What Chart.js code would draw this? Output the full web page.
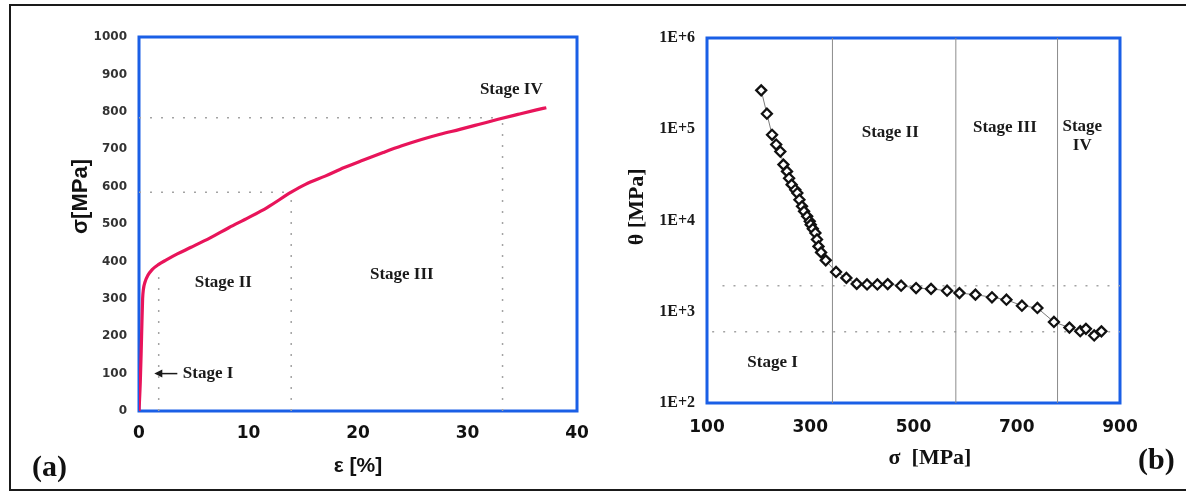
<!DOCTYPE html>
<html><head><meta charset="utf-8">
<script src="https://cdn.jsdelivr.net/npm/chart.js@4.4.0/dist/chart.umd.min.js"></script>
<style>
html,body{margin:0;padding:0;background:#fff;width:1186px;height:492px;overflow:hidden;}
#frame{position:absolute;left:9px;top:4px;width:1200px;height:487px;border:2px solid #1a1a1a;box-sizing:border-box;}
#ca{position:absolute;left:0;top:0;}
#cb{position:absolute;left:593px;top:0;}
.tag{position:absolute;font-family:"Liberation Serif",serif;font-weight:bold;font-size:30px;line-height:34px;color:#111;}
</style></head><body>
<div id="frame"></div>
<canvas id="ca" width="640" height="492"></canvas>
<canvas id="cb" width="593" height="492"></canvas>
<div class="tag" style="left:32px;top:449px">(a)</div>
<div class="tag" style="left:1138px;top:442px">(b)</div>
<script>
// ---------- (a) stress-strain curve ----------
const strainA = [0,0.12,0.2,0.27,0.33,0.4,0.55,0.8,1.2,1.8,2.5,3.5,4.7,6.5,8.2,10,11.7,13.9,15.2,17,18.75,20.5,22.3,24,25.8,27.5,29.3,31,32.8,34.6,36.3,37.2];
const stressA = [0,80,160,240,300,325,345,362,378,392,404,420,437,463,490,517,544,585,606,628,651,671,691,709,726,740,753,766,780,793,805,811];
const xTicksA = [0,10,20,30,40];
const yTicksA = [0,100,200,300,400,500,600,700,800,900,1000];
// stage boundaries (a)
const boundStrainA = [1.8,13.9,33.2];
const boundStressTopA = [375,585,775];
const levelStressA = [585,784];
const levelStrainEndA = [13.9,33.2];
const stageTextA = ['Stage II','Stage III','Stage IV'];
const stageStrainA = [7.7,24.0,34.0];
const stageStressA = [342,364,858];
const stageOneA = {text:'Stage I', strain:4.0, stress:100, arrowFrom:3.5, arrowTo:1.4};

// ---------- (b) work hardening rate ----------
const sigmaB = [205,216,226,234,242,248,255,259,264,271,275,279,284,288,294,299,301,305,310,313,316,321,330,350,370,390,410,430,450,476,505,534,565,589,620,652,680,710,740,772,802,823,834,850,864];
const thetaB = [267000,148000,87000,68000,57000,41000,34500,29000,24700,21700,20000,16900,14300,12600,11100,9800,9000,8100,7300,6200,5200,4470,3660,2730,2350,2020,1990,1990,2010,1930,1820,1780,1700,1600,1540,1440,1355,1165,1100,773,670,612,650,550,610];
const xTicksB = [100,300,500,700,900];
const yTicksB = [100,1000,10000,100000,1000000];
const boundSigmaB = [343,582,779];
const levelThetaB = [1930,603];
const levelSigmaStartB = [130,110];
const stageTextB = ['Stage II','Stage III','Stage\nIV','Stage I'];
const stageSigmaB = [455,677,827,227];
const stageThetaB = [91000,103000,85000,279];

const BLUE = '#1a5fe6';
const decor = {
  id: 'decor',
  beforeDatasetsDraw(chart) {
    const {ctx, chartArea: a} = chart;
    ctx.save();
    ctx.strokeStyle = BLUE; ctx.lineWidth = 3;
    ctx.strokeRect(a.left, a.top, a.right - a.left, a.bottom - a.top);
    ctx.restore();
  },
  afterDatasetsDraw(chart, args, opts) {
    const {ctx} = chart; const xs = chart.scales.x, ys = chart.scales.y;
    ctx.save();
    ctx.font = opts.font; ctx.fillStyle = '#1a1a1a';
    ctx.textAlign = 'center'; ctx.textBaseline = 'middle';
    opts.labels.forEach((t, i) => {
      const lines = t.split('\n');
      const px = xs.getPixelForValue(opts.xs[i]);
      const py = ys.getPixelForValue(opts.ys[i]);
      lines.forEach((l, j) => ctx.fillText(l, px, py + (j - (lines.length - 1) / 2) * 19));
    });
    if (opts.one) {
      const o = opts.one;
      const y = ys.getPixelForValue(o.stress);
      const x1 = xs.getPixelForValue(o.arrowFrom), x0 = xs.getPixelForValue(o.arrowTo);
      ctx.strokeStyle = '#1a1a1a'; ctx.lineWidth = 1.5;
      ctx.beginPath(); ctx.moveTo(x0 + 6, y); ctx.lineTo(x1, y); ctx.stroke();
      ctx.beginPath(); ctx.moveTo(x0, y); ctx.lineTo(x0 + 8, y - 4); ctx.lineTo(x0 + 8, y + 4); ctx.closePath(); ctx.fill();
      ctx.textAlign = 'left';
      ctx.fillText(o.text, xs.getPixelForValue(o.strain), y);
    }
    ctx.restore();
  }
};

const DOT = {borderColor:'#a3a3a3', borderWidth:1.5, borderDash:[2,9], pointRadius:0, showLine:true, fill:false};

// ---- chart (a)
const dsA = [{
  data: strainA.map((s, i) => ({x: s, y: stressA[i]})),
  showLine: true, borderColor: '#e8145a', borderWidth: 3.2, pointRadius: 0,
  cubicInterpolationMode: 'monotone', fill: false
}];
boundStrainA.forEach((s, i) => dsA.push(Object.assign({data: [{x: s, y: 0}, {x: s, y: boundStressTopA[i]}]}, DOT)));
levelStressA.forEach((v, i) => dsA.push(Object.assign({data: [{x: 0, y: v}, {x: levelStrainEndA[i], y: v}]}, DOT)));

new Chart(document.getElementById('ca'), {
  type: 'scatter',
  data: {datasets: dsA},
  options: {
    responsive: false, animation: false, devicePixelRatio: 1, events: [],
    layout: {padding: {left: 0, top: 37, right: 63, bottom: 0}},
    plugins: {legend: {display: false}, tooltip: {enabled: false},
      decor: {font: 'bold 17px "Liberation Serif"', labels: stageTextA, xs: stageStrainA, ys: stageStressA, one: stageOneA}},
    scales: {
      x: {type: 'linear', min: 0, max: 40,
        afterBuildTicks: s => { s.ticks = xTicksA.map(v => ({value: v})); },
        afterFit: s => { s.height = 81; },
        grid: {display: false, drawTicks: false}, border: {display: false},
        ticks: {padding: 12, color: '#111', font: {family: 'DejaVu Sans', size: 17, weight: 'bold'},
          callback: v => String(v)},
        title: {display: true, text: 'ε [%]', color: '#111', padding: {top: 0, bottom: 13},
          font: {family: 'Liberation Sans', size: 21, weight: 'bold'}}
      },
      y: {type: 'linear', min: 0, max: 1000,
        afterBuildTicks: s => { s.ticks = yTicksA.map(v => ({value: v})); },
        afterFit: s => { s.width = 139; },
        grid: {display: false, drawTicks: false}, border: {display: false},
        ticks: {padding: 12, color: '#333', font: {family: 'DejaVu Sans', size: 12, weight: 'bold'},
          callback: v => String(v)},
        title: {display: true, text: '         σ[MPa]', color: '#111', padding: {top: 68, bottom: 0},
          font: {family: 'Liberation Sans', size: 22, weight: 'bold'}}
      }
    }
  },
  plugins: [decor]
});

// ---- chart (b)
const dsB = [{
  data: sigmaB.map((s, i) => ({x: s, y: thetaB[i]})),
  showLine: true, borderColor: '#7a7a7a', borderWidth: 1,
  pointStyle: 'rectRot', pointRadius: 5, pointBorderWidth: 2.3,
  pointBorderColor: '#111', pointBackgroundColor: '#fff', fill: false
}];
boundSigmaB.forEach(s => dsB.push({data: [{x: s, y: 100}, {x: s, y: 1000000}], showLine: true,
  borderColor: '#8c8c8c', borderWidth: 1, pointRadius: 0, fill: false}));
levelThetaB.forEach((t, i) => dsB.push(Object.assign({data: [{x: levelSigmaStartB[i], y: t}, {x: 900, y: t}]}, DOT)));

new Chart(document.getElementById('cb'), {
  type: 'scatter',
  data: {datasets: dsB},
  options: {
    responsive: false, animation: false, devicePixelRatio: 1, events: [],
    layout: {padding: {left: 0, top: 38, right: 66, bottom: 0}},
    plugins: {legend: {display: false}, tooltip: {enabled: false},
      decor: {font: 'bold 17px "Liberation Serif"', labels: stageTextB, xs: stageSigmaB, ys: stageThetaB}},
    scales: {
      x: {type: 'linear', min: 100, max: 900,
        afterBuildTicks: s => { s.ticks = xTicksB.map(v => ({value: v})); },
        afterFit: s => { s.height = 89; },
        grid: {display: false, drawTicks: false}, border: {display: false},
        ticks: {padding: 14, color: '#111', font: {family: 'DejaVu Sans', size: 17, weight: 'bold'},
          callback: v => String(v)},
        title: {display: true, text: '      σ  [MPa]', color: '#111', padding: {top: 0, bottom: 20},
          font: {family: 'Liberation Serif', size: 22, weight: 'bold'}}
      },
      y: {type: 'logarithmic', min: 100, max: 1000000,
        afterBuildTicks: s => { s.ticks = yTicksB.map(v => ({value: v})); },
        afterFit: s => { s.width = 114; },
        grid: {display: false, drawTicks: false}, border: {display: false},
        ticks: {padding: 12, color: '#1a1a1a', font: {family: 'Liberation Serif', size: 16, weight: 'bold'},
          callback: v => '1E+' + Math.round(Math.log10(v))},
        title: {display: true, text: '     θ [MPa]', color: '#111', padding: {top: 31, bottom: 0},
          font: {family: 'Liberation Serif', size: 22, weight: 'bold'}}
      }
    }
  },
  plugins: [decor]
});
</script>
</body></html>
